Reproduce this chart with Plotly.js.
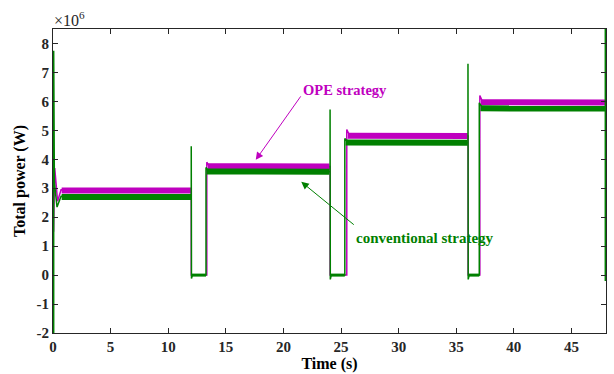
<!DOCTYPE html>
<html>
<head>
<meta charset="utf-8">
<script src="https://cdn.plot.ly/plotly-3.0.1.min.js"></script>
<style>html,body{margin:0;padding:0;background:#fff;}#chart{width:614px;height:374px;}</style>
</head>
<body>
<div id="chart"></div>
<script>
// Time (s) and total power (x10^6 W)
var opeTime  = [0.05, 0.15, 0.4, 0.7, 12.0, 12.0, 13.35, 13.35, 13.55, 24.05, 24.05, 25.5, 25.5, 25.75, 36.03, 36.03, 37.05, 37.05, 37.3, 48.0];
var opePower = [1.5, 3.7, 2.55, 2.95, 2.92, 0.0, 0.0, 3.9, 3.76, 3.75, 0.0, 0.0, 5.03, 4.82, 4.8, 0.0, 0.0, 6.2, 5.98, 5.96];

var convTime  = [0.06, 0.06, 0.12, 0.35, 0.7, 12.0, 12.0, 12.02, 12.1, 13.28, 13.28, 13.5, 24.05, 24.05, 24.07, 24.15, 25.33, 25.33, 25.6, 36.02, 36.02, 36.04, 36.12, 37.0, 37.0, 37.3, 47.94, 47.94, 47.94];
var convPower = [-2.5, 7.75, 3.2, 2.35, 2.72, 2.7, 4.45, -0.12, 0.0, 0.0, 3.72, 3.58, 3.57, 5.72, -0.15, 0.0, 0.0, 4.72, 4.58, 4.57, 7.3, -0.15, 0.0, 0.0, 5.95, 5.77, 5.75, -0.2, 9.0];

// steady-state bands (thick noisy traces)
var opeBandTime  = [0.75, 12.0, null, 13.45, 24.0, null, 25.6, 36.0, null, 37.15, 48.0];
var opeBandPower = [2.92, 2.92, null, 3.76, 3.75, null, 4.81, 4.8, null, 5.97, 5.96];
var convBandTime  = [0.75, 12.0, null, 13.35, 24.0, null, 25.4, 36.0, null, 37.1, 48.0];
var convBandPower = [2.70, 2.70, null, 3.58, 3.57, null, 4.58, 4.57, null, 5.76, 5.75];
var zeroBandTime  = [12.05, 13.28, null, 24.1, 25.33, null, 36.08, 37.0];
var zeroBandPower = [0, 0, null, 0, 0, null, 0, 0];

var xTicks = [0, 5, 10, 15, 20, 25, 30, 35, 40, 45];
var yTicks = [-2, -1, 0, 1, 2, 3, 4, 5, 6, 7, 8];

var MAG = '#bf00bf', GRN = '#008000';
var serif = 'Liberation Serif';

var traces = [
  {x: opeTime, y: opePower, mode: 'lines', line: {color: MAG, width: 1.5}, hoverinfo: 'skip'},
  {x: opeBandTime, y: opeBandPower, mode: 'lines', line: {color: MAG, width: 6}, connectgaps: false, hoverinfo: 'skip'},
  {x: convTime, y: convPower, mode: 'lines', line: {color: GRN, width: 1.5}, hoverinfo: 'skip'},
  {x: convBandTime, y: convBandPower, mode: 'lines', line: {color: GRN, width: 6}, connectgaps: false, hoverinfo: 'skip'},
  {x: zeroBandTime, y: zeroBandPower, mode: 'lines', line: {color: GRN, width: 3}, connectgaps: false, hoverinfo: 'skip'}
];

function axis(extra) {
  return Object.assign({
    showline: true, linecolor: '#262626', linewidth: 1, mirror: 'ticks',
    ticks: 'inside', ticklen: 5, tickcolor: '#262626', tickwidth: 1,
    showgrid: false, zeroline: false,
    tickfont: {family: serif, size: 15, color: '#262626', weight: 'bold'}
  }, extra);
}

var layout = {
  width: 614, height: 374,
  margin: {l: 53, r: 8, t: 29, b: 41},
  paper_bgcolor: '#fff', plot_bgcolor: '#fff',
  showlegend: false, hovermode: false,
  xaxis: axis({
    range: [0, 48], tickvals: xTicks, ticktext: xTicks.map(String),
    title: {text: 'Time (s)', font: {family: serif, size: 16, color: '#000', weight: 'bold'}, standoff: 3}
  }),
  yaxis: axis({
    range: [-2, 8.5], tickvals: yTicks, ticktext: yTicks.map(String),
    title: {text: 'Total power (W)', font: {family: serif, size: 16, color: '#000', weight: 'bold'}, standoff: 6}
  }),
  annotations: [
    {xref: 'paper', yref: 'paper', x: 0, y: 1, xanchor: 'left', yanchor: 'bottom', yshift: -2, xshift: -1,
     text: '×10<sup>6</sup>', showarrow: false, font: {family: serif, size: 16, color: '#262626'}},
    {xref: 'x', yref: 'y', x: 17.6, y: 3.98, ax: 46, ay: -65,
     text: '', showarrow: true, arrowhead: 2, arrowsize: 1.5, arrowwidth: 1, arrowcolor: MAG},
    {xref: 'x', yref: 'y', x: 25.35, y: 6.38, text: 'OPE strategy', showarrow: false,
     font: {family: serif, size: 14.5, color: MAG, weight: 'bold'}},
    {xref: 'x', yref: 'y', x: 21.55, y: 3.22, ax: 54, ay: 44,
     text: '', showarrow: true, arrowhead: 2, arrowsize: 1.5, arrowwidth: 1, arrowcolor: GRN},
    {xref: 'x', yref: 'y', x: 32.25, y: 1.27, text: 'conventional strategy', showarrow: false,
     font: {family: serif, size: 15, color: GRN, weight: 'bold'}}
  ]
};

Plotly.newPlot('chart', traces, layout, {staticPlot: true, displayModeBar: false});
</script>
</body>
</html>
